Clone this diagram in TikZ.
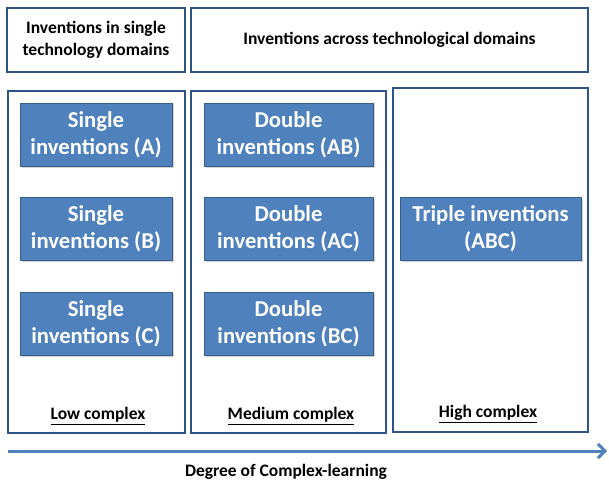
\documentclass[tikz,border=0pt]{standalone}
\usepackage{fontspec}
\setmainfont{Carlito}
\usetikzlibrary{arrows.meta,shadows}
\definecolor{obox}{HTML}{2E5487}
\definecolor{bfill}{HTML}{4F81BD}
\definecolor{bline}{HTML}{385D8A}
\tikzset{
  frame/.style={draw=obox, line width=1.3pt, fill=white, rectangle, inner sep=0pt},
  hdr/.style={font=\bfseries\fontsize{17.5}{22}\selectfont, align=center, text=black},
  blue/.style={draw=bline, line width=0.8pt, fill=bfill, rectangle, inner sep=0pt,
     minimum height=63pt, text=white, align=center, font=\bfseries\fontsize{22.7}{27}\selectfont,
     drop shadow={shadow xshift=1.5pt, shadow yshift=-1.5pt, opacity=0.35}},
  lvl/.style={font=\bfseries\fontsize{17.5}{21}\selectfont, text=black},
}
\begin{document}
\begin{tikzpicture}[x=1pt,y=-1pt]
\useasboundingbox (0,0) rectangle (609,481);
% header boxes
\node[frame, minimum width=178pt, minimum height=64pt] (h1) at (96,40) {};
\node[hdr] (h1t) at (h1.center) {Inventions in single\\technology domains};
\node[frame, minimum width=397pt, minimum height=64pt] (h2) at (389.5,40) {};
\node[hdr] (h2t) at (h2.center) {Inventions across technological domains};
% columns
\node[frame, minimum width=177pt, minimum height=342pt] (c1) at (96.5,262) {};
\node[frame, minimum width=195pt, minimum height=342pt] (c2) at (288.5,262) {};
\node[frame, minimum width=195pt, minimum height=344pt] (c3) at (490.5,260) {};
% blue boxes
\node[blue, minimum width=152pt] (a) at (96,134.5) {Single\\inventions (A)};
\node[blue, minimum width=152pt] (b) at (96,228.5) {Single\\inventions (B)};
\node[blue, minimum width=152pt] (c) at (96,323.5) {Single\\inventions (C)};
\node[blue, minimum width=169pt] (ab) at (288.5,134.5) {Double\\inventions (AB)};
\node[blue, minimum width=169pt] (ac) at (288.5,228.5) {Double\\inventions (AC)};
\node[blue, minimum width=169pt] (bc) at (288.5,323.5) {Double\\inventions (BC)};
\node[blue, minimum width=181pt] (abc) at (490.5,228.5) {Triple inventions\\(ABC)};
% level labels
\node[lvl] (low) at (98,416) {\underline{Low complex}};
\node[lvl] (med) at (291,416) {\underline{Medium complex}};
\node[lvl] (high) at (488,414) {\underline{High complex}};
% arrow
\coordinate (s) at (8,451);
\coordinate (e) at (607,451);
\draw[bfill, line width=3pt, -{Straight Barb[length=7pt,width=14pt,line width=3pt]}] (s) -- (e);
\node[lvl] (deg) at (286,472) {Degree of Complex-learning};
\end{tikzpicture}
\end{document}
